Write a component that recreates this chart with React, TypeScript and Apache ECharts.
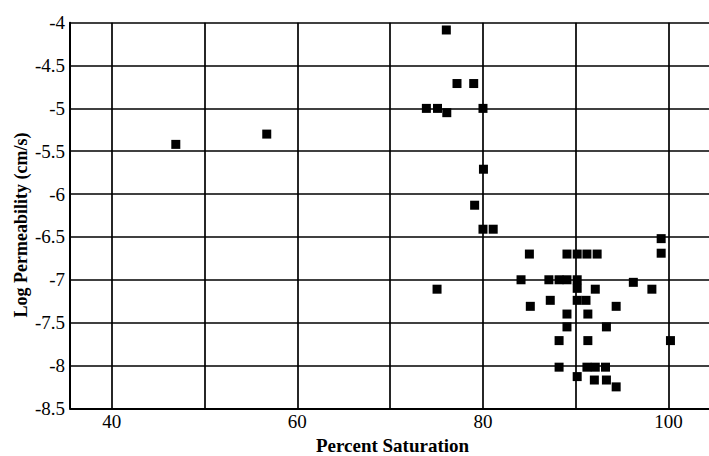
import React, { useEffect, useRef } from "react";
import * as echarts from "echarts";

// Percent saturation (x) and log permeability in cm/s (y)
const saturation: number[] = [
  46.9, 56.7,
  76.05, 77.2, 79.0, 73.9, 75.1, 76.1, 80.0, 80.05, 79.1, 80.0, 81.1,
  75.05,
  85.0, 89.05, 90.15, 91.2, 92.3, 99.2, 99.2,
  84.1, 87.1, 88.2, 89.05, 90.15, 90.15, 92.1, 96.2, 98.2,
  87.25, 90.15, 91.1, 85.1, 94.35,
  89.05, 91.3, 89.05, 93.3,
  88.2, 91.3, 100.2,
  88.2, 91.2, 92.1, 93.2,
  90.15, 92.0, 93.3, 94.35,
];
const logPermeability: number[] = [
  -5.42, -5.3,
  -4.085, -4.71, -4.71, -5.0, -5.0, -5.05, -5.0, -5.71, -6.13, -6.41, -6.41,
  -7.11,
  -6.7, -6.7, -6.7, -6.7, -6.7, -6.52, -6.69,
  -7.0, -7.0, -7.0, -7.0, -7.0, -7.1, -7.11, -7.03, -7.11,
  -7.24, -7.24, -7.24, -7.31, -7.31,
  -7.4, -7.4, -7.55, -7.55,
  -7.71, -7.71, -7.71,
  -8.02, -8.02, -8.02, -8.02,
  -8.13, -8.17, -8.17, -8.25,
];
const xLabels: number[] = [40, 60, 80, 100];

const FONT = "Liberation Serif";
const INK = "#000";

export default function App() {
  const ref = useRef<HTMLDivElement>(null);
  useEffect(() => {
    if (!ref.current) return;
    const chart = echarts.init(ref.current, undefined, { renderer: "svg" });
    const points = saturation.map((s, i) => [s, logPermeability[i]]);
    chart.setOption({
      animation: false,
      backgroundColor: "#fff",
      textStyle: { fontFamily: FONT, color: INK },
      grid: {
        left: 70,
        top: 22.7,
        width: 645,
        height: 385.6,
        containLabel: false,
        outerBoundsMode: "none",
      },
      xAxis: {
        type: "value",
        min: 35.5,
        max: 105,
        splitNumber: 7,
        name: "Percent Saturation",
        nameLocation: "middle",
        nameGap: 28,
        nameTextStyle: { fontFamily: FONT, fontSize: 19, fontWeight: "bold", color: INK },
        axisLine: { show: true, lineStyle: { color: INK, width: 2 } },
        axisTick: { show: false },
        axisLabel: {
          fontFamily: FONT,
          fontSize: 19,
          color: INK,
          margin: 4,
          showMinLabel: false,
          showMaxLabel: false,
          formatter: (v: number) => (xLabels.includes(v) ? String(v) : ""),
        },
        splitLine: { show: true, lineStyle: { color: INK, width: 1.7 } },
      },
      yAxis: {
        type: "value",
        min: -8.5,
        max: -4,
        interval: 0.5,
        axisLine: { show: true, lineStyle: { color: INK, width: 2 } },
        axisTick: { show: false },
        axisLabel: { fontFamily: FONT, fontSize: 19, color: INK, margin: 5 },
        splitLine: { show: true, lineStyle: { color: INK, width: 1.7 } },
      },
      graphic: [
        {
          type: "text",
          x: 21,
          y: 225,
          rotation: Math.PI / 2,
          style: {
            text: "Log Permeability (cm/s)",
            fontFamily: FONT,
            fontSize: 18,
            fontWeight: "bold",
            fill: INK,
            align: "center",
            verticalAlign: "middle",
          },
        },
      ],
      series: [
        {
          type: "scatter",
          symbol: "rect",
          symbolSize: 9,
          itemStyle: { color: INK, opacity: 1 },
          data: points,
        },
      ],
    });
    return () => chart.dispose();
  }, []);
  return (
    <div
      ref={ref}
      style={{ position: "fixed", left: 0, top: 0, width: 709, height: 456, background: "#fff" }}
    />
  );
}
